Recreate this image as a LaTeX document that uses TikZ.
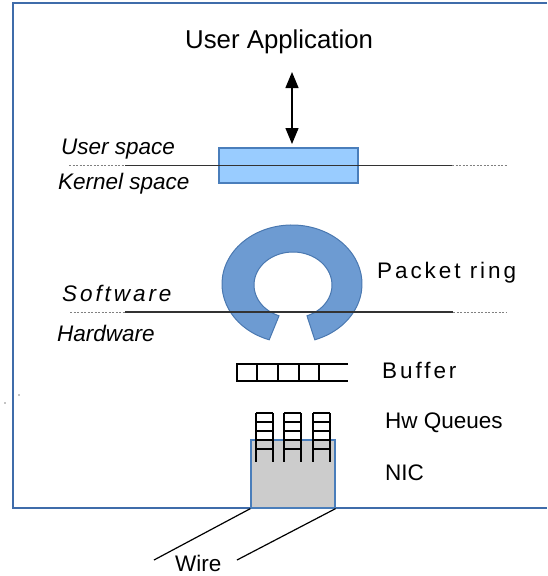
\documentclass[tikz,border=0pt]{standalone}
\usepackage{fontspec}
\setmainfont{Liberation Sans}
\usetikzlibrary{arrows.meta,calc}
\definecolor{framecol}{HTML}{3F6CAA}
\definecolor{boxfill}{HTML}{99CCFF}
\definecolor{boxdraw}{HTML}{4A7EBB}
\definecolor{ringfill}{HTML}{6D9BD2}
\definecolor{ringdraw}{HTML}{4A78B0}
\definecolor{nicfill}{HTML}{CCCCCC}
\definecolor{sepcol}{HTML}{333333}
\tikzset{
  lbl/.style={anchor=base west, inner sep=0pt, font=\fontsize{22.5}{27}\selectfont},
  ilbl/.style={lbl, font=\fontsize{22.5}{27}\selectfont\itshape},
  sparse/.style={lbl, font=\fontsize{22.5}{27}\selectfont\addfontfeature{LetterSpace=13}},
  sepline/.style={sepcol, line width=1.5pt},
  dotline/.style={gray, line width=1pt, dash pattern=on 2pt off 1.5pt},
  hwline/.style={black, line width=1.3pt},
}
\begin{document}
\begin{tikzpicture}[x=1pt,y=-1pt]
\useasboundingbox (0,0) rectangle (547,576);
% frame
\draw[framecol, line width=2.5pt] (547,3) -- (13,3) -- (13,508) -- (547,508);
% tiny dots
\fill (19,395) circle (0.7);
\fill (5,403) circle (0.7);
% title
\node[lbl, font=\fontsize{25.8}{31}\selectfont] (app) at (185,48) {User Application};
\coordinate (atop) at (292,72);
\coordinate (abot) at (292,144);
\draw[line width=1.4pt, {Triangle[length=16pt,width=13pt]}-{Triangle[length=16pt,width=13pt]}] (atop) -- (abot);
% user/kernel
\node[draw=boxdraw, fill=boxfill, line width=1.2pt, minimum width=139pt, minimum height=35pt, inner sep=0pt] (sock) at (288.5,165.5) {};
\coordinate (uk1) at (69,165.5);
\coordinate (uk2) at (125,165.5);
\coordinate (uk3) at (452,165.5);
\coordinate (uk4) at (507,165.5);
\draw[dotline] (uk1) -- (uk2);
\draw[sepline] (uk2) -- (uk3);
\draw[dotline] (uk3) -- (uk4);
\node[ilbl] (us) at (61,154) {User space};
\node[ilbl] (ks) at (58,189) {Kernel space};
% ring
\draw[fill=ringfill, draw=ringdraw, line width=1pt]
  (292,284) ++(109:70 and 59)
  arc[start angle=109, end angle=431, x radius=70, y radius=59]
  -- ($(293,285)+(69:39 and 33)$)
  arc[start angle=69, end angle=-249, x radius=39, y radius=33]
  -- cycle;
\coordinate (sh1) at (70,312);
\coordinate (sh2) at (125,312);
\coordinate (sh3) at (453,312);
\coordinate (sh4) at (507,312);
\draw[dotline] (sh1) -- (sh2);
\draw[sepline] (sh2) -- (sh3);
\draw[dotline] (sh3) -- (sh4);
\node[lbl, font=\fontsize{22.5}{27}\selectfont\itshape\addfontfeature{LetterSpace=13}] (sw) at (62,301) {Software};
\node[ilbl] (hw) at (57,341) {Hardware};
\node[sparse] (pr) at (377,278) {Packet ring};
% buffer
\draw[hwline] (348,364) -- (237,364) -- (237,381) -- (348,381);
\foreach \xx in {257,278,299,319} \draw[hwline] (\xx,364) -- (\xx,381);
\node[sparse] (buf) at (382,378) {Buffer};
% NIC
\node[draw=boxdraw, fill=nicfill, line width=1.2pt, minimum width=84pt, minimum height=68pt, inner sep=0pt] (nic) at (293,474) {};
\foreach \xx in {256,284,313} {
  \draw[hwline] (\xx,413) -- (\xx,462);
  \draw[hwline] (\xx+17,413) -- (\xx+17,462);
  \foreach \yy in {413,422,431,440,449} \draw[hwline] (\xx,\yy) -- (\xx+17,\yy);
}
\node[lbl] (hq) at (385,428) {Hw Queues};
\node[lbl] (nicl) at (385,480) {NIC};
% wires
\coordinate (w1) at (154,560);
\coordinate (w2) at (237,560);
\draw[line width=1.2pt] (nic.south west) -- (w1);
\draw[line width=1.2pt] (nic.south east) -- (w2);
\node[lbl] (wire) at (175,571) {Wire};
\end{tikzpicture}
\end{document}
